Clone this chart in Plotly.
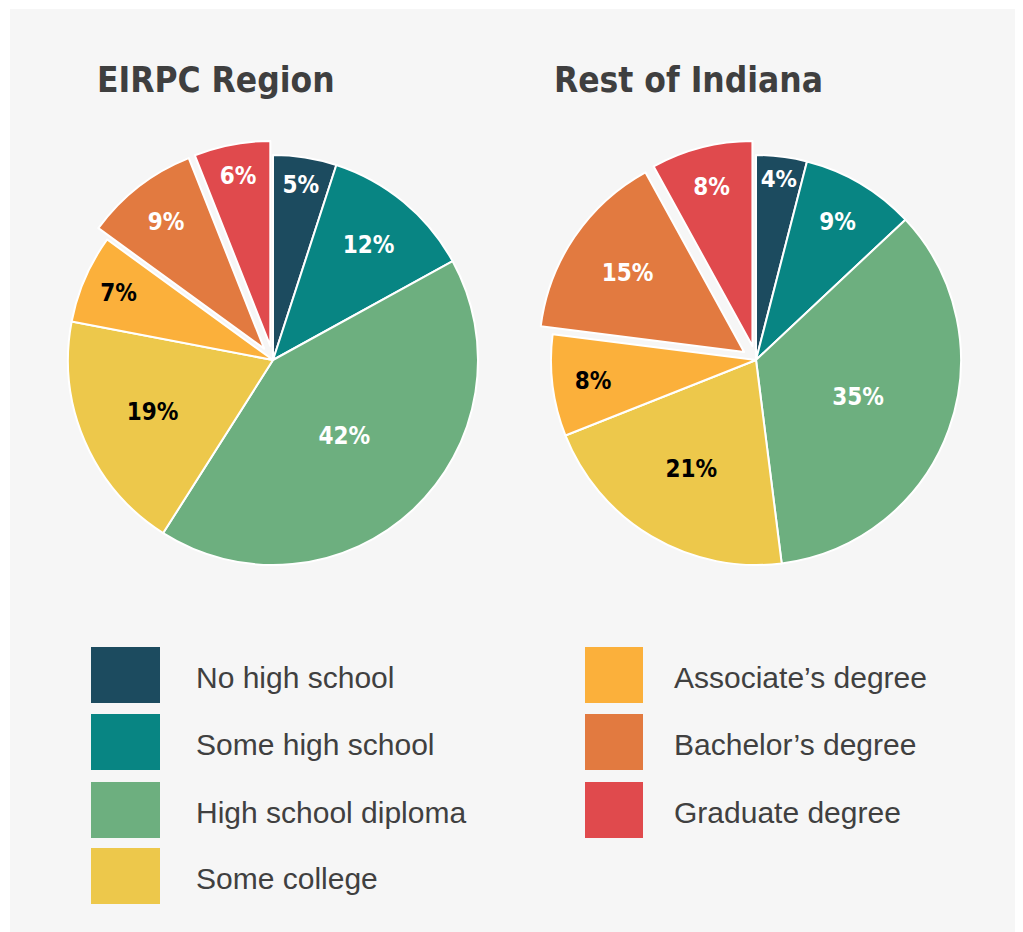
"""
Niveau d'études : région EIRPC vs reste de l'Indiana (deux camemberts).
"""

import plotly.graph_objects as go

# Données
categories = [
    "No high school",
    "Some high school",
    "High school diploma",
    "Some college",
    "Associate’s degree",
    "Bachelor’s degree",
    "Graduate degree",
]
eirpc_pct = [5, 12, 42, 19, 7, 9, 6]
indiana_pct = [4, 9, 35, 21, 8, 15, 8]
titles = ["EIRPC Region", "Rest of Indiana"]

colors = ["#1c4b5f", "#088583", "#6daf7f", "#edc84b", "#fbb03b", "#e27a40", "#e04a4d"]
label_colors = ["white", "white", "white", "black", "black", "white", "white"]
pulls = [0, 0, 0, 0, 0, 0.07, 0.07]

# la page ajoute une marge de 8 px autour de la figure
OFF = 8
W, H = 1023 - OFF, 932 - OFF
TXT = "#404040"
COND = "DejaVu Sans Condensed, Roboto Condensed, Liberation Sans Narrow, Arial Narrow, sans-serif"


def px_x(x):
    return (x - OFF) / W


def px_y(y):
    return 1 - (y - OFF) / H


def pie_domain(cx, cy, r, pull):
    half = r * (1 + pull)
    return dict(x=[px_x(cx - half), px_x(cx + half)],
                y=[px_y(cy + half), px_y(cy - half)])


fig = go.Figure()

# Camemberts
for values, (cx, cy) in zip([eirpc_pct, indiana_pct], [(273, 360), (756, 360)]):
    fig.add_trace(
        go.Pie(
            labels=categories,
            values=values,
            sort=False,
            direction="clockwise",
            rotation=0,
            pull=pulls,
            marker=dict(colors=colors, line=dict(color="white", width=2)),
            texttemplate="%{value}%",
            textposition="inside",
            insidetextorientation="horizontal",
            textfont=dict(family=COND, size=24, color=label_colors, weight="bold"),
            hoverinfo="label+value",
            domain=pie_domain(cx, cy, 205, max(pulls)),
            showlegend=False,
        )
    )

# Fond gris
shapes = [
    dict(type="rect", xref="paper", yref="paper", layer="below",
         x0=px_x(10), x1=1, y0=0, y1=px_y(9),
         fillcolor="#f6f6f6", line=dict(width=0))
]
annotations = []

# Titres
for title, x in zip(titles, [95, 552]):
    annotations.append(dict(
        text=title, x=px_x(x), y=px_y(80), xref="paper", yref="paper",
        xanchor="left", yanchor="middle", showarrow=False,
        font=dict(family=COND, size=35, color="#3f3f3f", weight="bold"),
    ))

# Légende personnalisée
cols = [dict(x0=91, x1=160, tx=194), dict(x0=585, x1=643, tx=672)]
row_top = [647, 714, 782, 848]
for i, (cat, col) in enumerate(zip(categories, colors)):
    c = cols[0] if i < 4 else cols[1]
    top = row_top[i if i < 4 else i - 4]
    shapes.append(dict(
        type="rect", xref="paper", yref="paper",
        x0=px_x(c["x0"]), x1=px_x(c["x1"]),
        y0=px_y(top + 56), y1=px_y(top),
        fillcolor=col, line=dict(width=0),
    ))
    annotations.append(dict(
        text=cat, x=px_x(c["tx"]), y=px_y(top + 30), xref="paper", yref="paper",
        xanchor="left", yanchor="middle", showarrow=False,
        font=dict(family="Liberation Sans", size=30, color=TXT),
    ))

fig.update_layout(
    width=W,
    height=H,
    margin=dict(l=0, r=0, t=0, b=0),
    paper_bgcolor="white",
    plot_bgcolor="white",
    shapes=shapes,
    annotations=annotations,
)

fig.write_html("out.html")
